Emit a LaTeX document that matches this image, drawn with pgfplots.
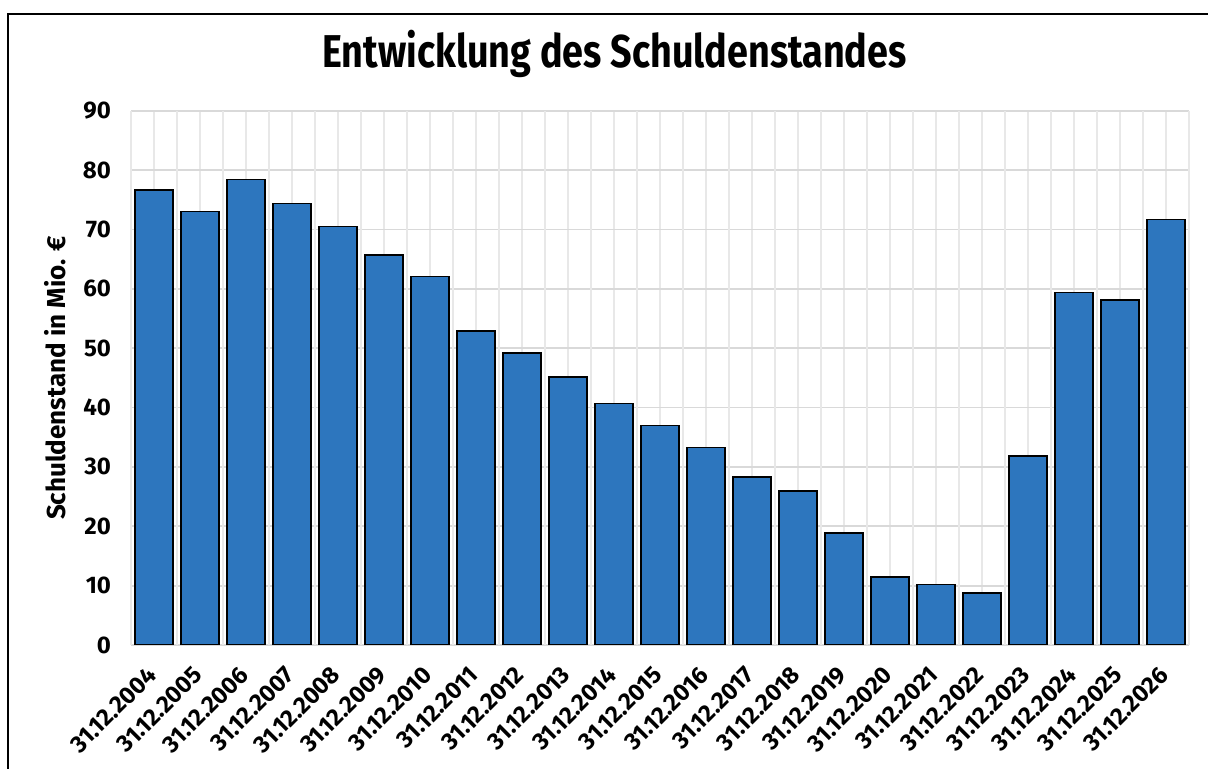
\documentclass[border=0pt]{standalone}
\usepackage{fontspec}
\setmainfont{Fira Sans}
\newfontfamily\titlefont[FakeStretch=0.82]{Fira Sans}
\usepackage{pgfplots}
\pgfplotsset{compat=1.18}
\definecolor{barblue}{RGB}{45,118,190}
\definecolor{hgrid}{RGB}{217,217,217}
\definecolor{vgrid}{RGB}{232,232,232}
\begin{document}
\begin{tikzpicture}[x=1pt,y=1pt]
\useasboundingbox (0,0) rectangle (604,384.5);
\draw[line width=1pt] (4,-5) -- (4,377.5) -- (610,377.5);
\node[font=\titlefont\bfseries\fontsize{23}{27}\selectfont, anchor=base] at (307.25,350.5) {Entwicklung des Schuldenstandes};
\begin{axis}[
  at={(65.5pt,62pt)}, anchor=south west,
  scale only axis, width=529pt, height=267.15pt,
  xmin=-0.5, xmax=22.5, ymin=0, ymax=90,
  ybar, bar width=0.82, bar shift=0pt,
  xtick={0,...,22},
  xticklabels={31.12.2004,31.12.2005,31.12.2006,31.12.2007,31.12.2008,31.12.2009,31.12.2010,31.12.2011,31.12.2012,31.12.2013,31.12.2014,31.12.2015,31.12.2016,31.12.2017,31.12.2018,31.12.2019,31.12.2020,31.12.2021,31.12.2022,31.12.2023,31.12.2024,31.12.2025,31.12.2026},
  ytick={0,10,...,90},
  axis line style={draw=none},
  major tick length=0pt,
  xmajorgrids, ymajorgrids,
  major grid style={color=vgrid, line width=0.9pt},
  every axis y grid/.style={color=hgrid, line width=0.9pt},
  extra x ticks={-0.5,0.5,...,22.5}, extra x tick labels={},
  extra x tick style={grid=major},
  /pgf/number format/assume math mode=true,
  ticklabel style={font=\bfseries\fontsize{12}{14}\selectfont},
  yticklabel style={xshift=-6.5pt},
  xticklabel style={xshift=1.5pt, yshift=-10.5pt, rotate=45, anchor=east},
  ylabel={Schuldenstand in Mio. €},
  ylabel style={font=\bfseries\fontsize{13}{15}\selectfont, at={(axis description cs:-0.072,0.5)}, anchor=center},
]
\addplot[fill=barblue, draw=black, line width=0.8pt] coordinates {
(0,76.6) (1,73.0) (2,78.4) (3,74.4) (4,70.5) (5,65.7) (6,62.1) (7,52.9) (8,49.2) (9,45.1) (10,40.7) (11,37.0) (12,33.3) (13,28.3) (14,25.9) (15,18.9) (16,11.5) (17,10.2) (18,8.8) (19,31.8) (20,59.4) (21,58.1) (22,71.7)
};
\end{axis}
\end{tikzpicture}
\end{document}
